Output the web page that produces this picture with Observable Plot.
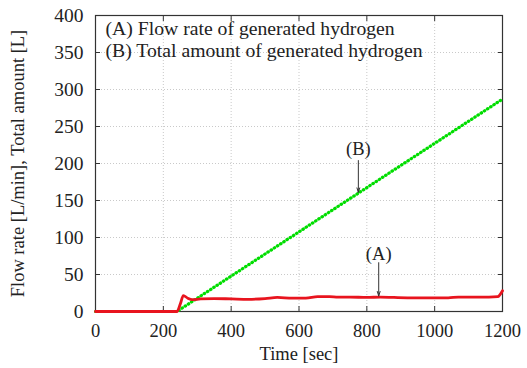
<!DOCTYPE html>
<html><head><meta charset="utf-8">
<script src="https://cdn.jsdelivr.net/npm/d3@7"></script>
<script src="https://cdn.jsdelivr.net/npm/@observablehq/plot@0.6"></script>
<style>body{margin:0;background:#fff} svg text{font-family:'Liberation Serif','Times New Roman',serif}</style>
</head><body><div id="chart"></div>
<script>
const timeA = [0, 240, 250, 259, 272, 285, 310, 350, 400, 450, 500, 536, 580, 620, 655, 690, 715, 750, 800, 840, 880, 940, 1000, 1040, 1070, 1120, 1160, 1186, 1200];
const flowA = [0, 0, 10, 21.5, 18, 16, 17, 17.5, 17, 16.5, 17.5, 19, 18, 18, 20, 20, 19.5, 19.5, 19, 19.5, 19, 18.5, 18.5, 18.5, 19.5, 19.5, 19.5, 20, 28];
const timeB = [0, 240, 1200];
const totalB = [0, 0, 287];
const xTicks = [0, 200, 400, 600, 800, 1000, 1200];
const yTicks = [0, 50, 100, 150, 200, 250, 300, 350, 400];
const legendLines = ["(A) Flow rate of generated hydrogen", "(B) Total amount of generated hydrogen"];
const annLabels = ["(A)", "(B)"];
const annX = [835, 775];
const annTextY = [78, 220];
const annFromY = [66, 204];
const annToY = [21, 161];

const A = timeA.map((t, i) => ({t, v: flowA[i]}));
const B = timeB.map((t, i) => ({t, v: totalB[i]}));
const ann = annLabels.map((label, i) => ({label, x: annX[i], ty: annTextY[i], y1: annFromY[i], y2: annToY[i]}));

const font = "'Liberation Serif', 'Times New Roman', serif";
const fs = 18.5;
const lfs = 19.7;
const chart = Plot.plot({
  width: 527, height: 368,
  marginLeft: 95, marginRight: 25, marginTop: 15, marginBottom: 57,
  style: {fontFamily: font, fontSize: fs + "px", color: "#222", background: "#fff"},
  x: {domain: [0, 1200], ticks: xTicks, tickFormat: "d", label: null},
  y: {domain: [0, 400], ticks: yTicks, tickFormat: "d", label: null},
  marks: [
    Plot.gridX(xTicks, {stroke: "#bbb", strokeOpacity: 0.8, strokeDasharray: "1,2"}),
    Plot.gridY(yTicks, {stroke: "#bbb", strokeOpacity: 0.8, strokeDasharray: "1,2"}),
    Plot.axisX(xTicks, {anchor: "bottom", tickSize: 0, tickPadding: 12, fontSize: fs, fontFamily: font, tickFormat: "d", label: null, fill: "#222"}),
    Plot.axisY(yTicks, {anchor: "left", tickSize: 0, tickPadding: 12, fontSize: fs + 1, fontFamily: font, tickFormat: "d", label: null, fill: "#222"}),
    Plot.axisX(xTicks, {anchor: "bottom", tickSize: -5, text: null, label: null, stroke: "#333"}),
    Plot.axisX(xTicks, {anchor: "top", tickSize: -5, text: null, label: null, stroke: "#333"}),
    Plot.axisY(yTicks, {anchor: "left", tickSize: -5, text: null, label: null, stroke: "#333"}),
    Plot.axisY(yTicks, {anchor: "right", tickSize: -5, text: null, label: null, stroke: "#333"}),
    Plot.frame({stroke: "#333", strokeWidth: 1.2}),
    Plot.line(B, {x: "t", y: "v", stroke: "#00dd00", strokeWidth: 3.2, strokeDasharray: "0.5,3.3", strokeLinecap: "round"}),
    Plot.line(A, {x: "t", y: "v", stroke: "#e8141e", strokeWidth: 2.8, curve: "monotone-x"}),
    Plot.arrow(ann, {x1: "x", x2: "x", y1: "y1", y2: "y2", stroke: "#333", strokeWidth: 1, headLength: 7, headAngle: 35}),
    Plot.text(ann, {x: "x", y: "ty", text: "label", fontSize: fs, fontFamily: font, fill: "#222"}),
    Plot.text([legendLines[0]], {text: d => d, frameAnchor: "top-left", dx: 10, dy: 5, textAnchor: "start", lineAnchor: "top", fontSize: lfs, fontFamily: font, fill: "#222"}),
    Plot.text([legendLines[1]], {text: d => d, frameAnchor: "top-left", dx: 10, dy: 27, textAnchor: "start", lineAnchor: "top", fontSize: lfs, fontFamily: font, fill: "#222"}),
    Plot.text(["Time [sec]"], {text: d => d, frameAnchor: "bottom", dy: 48, fontSize: fs, fontFamily: font, fill: "#222"}),
    Plot.text(["Flow rate [L/min], Total amount [L]"], {text: d => d, frameAnchor: "left", dx: -77, rotate: -90, textAnchor: "middle", fontSize: fs, fontFamily: font, fill: "#222"})
  ]
});
document.getElementById("chart").append(chart);
</script>
</body></html>
